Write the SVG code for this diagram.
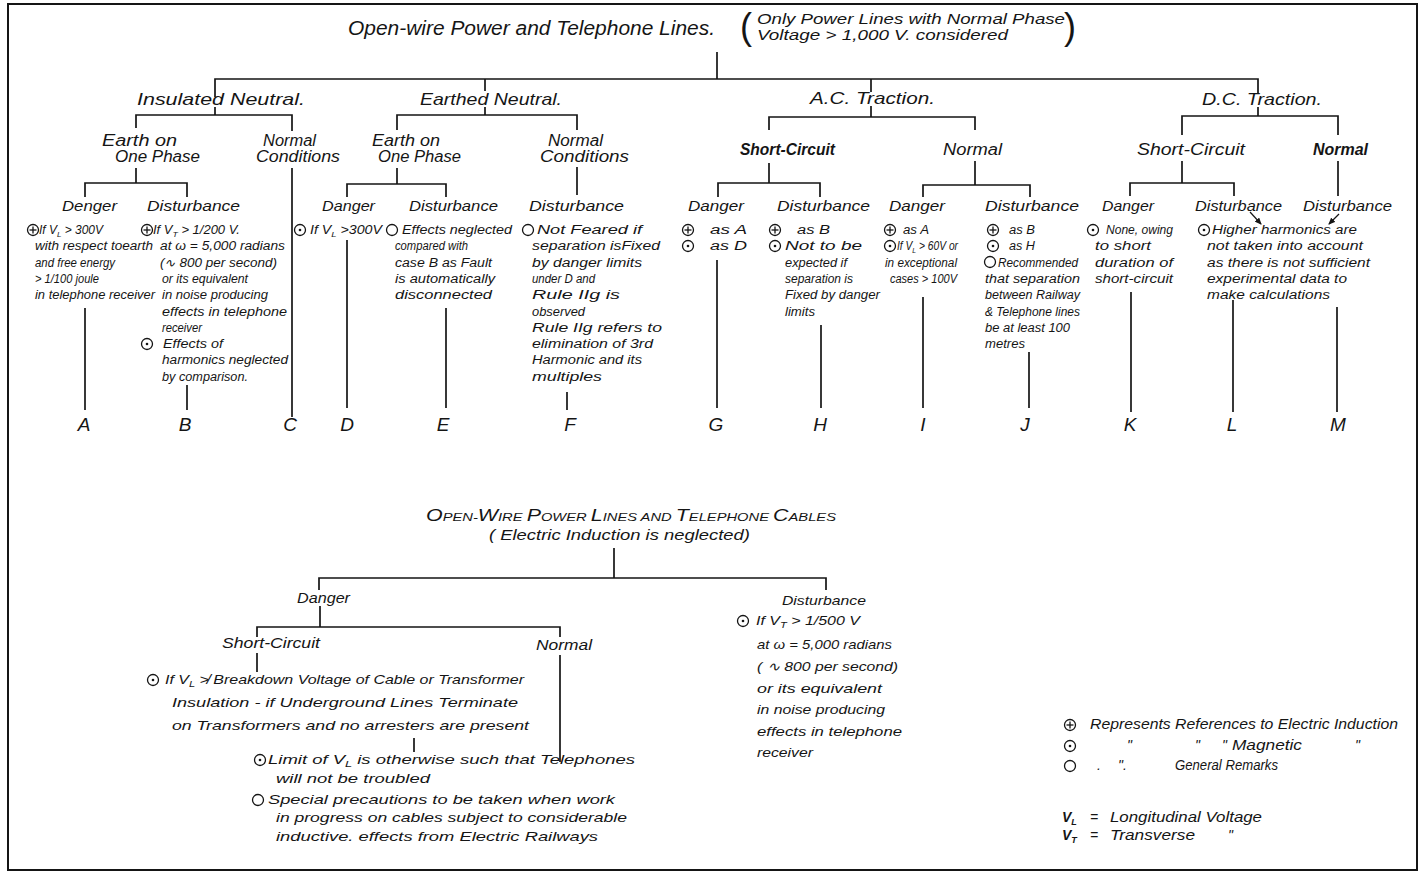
<svg xmlns="http://www.w3.org/2000/svg" width="1418" height="873" viewBox="0 0 1418 873">
<style>
text{font-family:"Liberation Sans",Arial,sans-serif;font-style:italic;fill:#151515}
.h0{font-size:20px}
.h1{font-size:17px}
.h2{font-size:16px}
.h3{font-size:15px}
.s{font-size:12px}
.m{font-size:13px}
.lg{font-size:14px}
.lt{font-size:19px;text-anchor:middle}
.b{font-weight:bold}
.par{font-size:36px;font-style:normal}
.c path{stroke:#151515;stroke-width:1.7;fill:none}
.sym circle,.sym line{fill:none;stroke:#151515;stroke-width:1.3}
.sym .d{fill:#151515;stroke:none}
.frame{fill:none;stroke:#151515;stroke-width:2}
</style>
<defs>
<g id="plus" class="sym"><circle r="5.5"/><line x1="-3.5" y1="0" x2="3.5" y2="0"/><line x1="0" y1="-3.5" x2="0" y2="3.5"/></g>
<g id="dot" class="sym"><circle r="5.5"/><circle class="d" r="1.3"/></g>
<g id="ring" class="sym"><circle r="5.5"/></g>
<marker id="ah" markerWidth="7" markerHeight="6" refX="6" refY="3" orient="auto" markerUnits="userSpaceOnUse"><path d="M0,0 L7,3 L0,6 z" fill="#151515"/></marker>
</defs>
<rect width="1418" height="873" fill="#fff"/>
<rect class="frame" x="8" y="4" width="1409" height="866"/>

<g id="connectors" class="c">
<path d="M717 52V79"/>
<path d="M215 97V79H1258V94"/>
<path d="M485 79V91"/>
<path d="M871 79V92"/>
<path d="M215 107V115"/>
<path d="M136 128V115H292V131"/>
<path d="M136 168V183"/>
<path d="M85 197V183H187V197"/>
<path d="M292 168V417"/>
<path d="M85 308V410"/>
<path d="M187 385V410"/>
<path d="M347 240V408"/>
<path d="M485 107V115"/>
<path d="M397 130V115H577V130"/>
<path d="M397 168V184"/>
<path d="M347 197V184H446V197"/>
<path d="M577 167V195"/>
<path d="M446 308V408"/>
<path d="M567 392V410"/>
<path d="M871 106V117"/>
<path d="M769 130V117H975V130"/>
<path d="M769 163V183"/>
<path d="M718 197V183H820V197"/>
<path d="M975 161V185"/>
<path d="M923 197V185H1030V197"/>
<path d="M717 260V408"/>
<path d="M821 325V408"/>
<path d="M923 297V408"/>
<path d="M1029 352V408"/>
<path d="M1258 107V116"/>
<path d="M1182 135V116H1338V135"/>
<path d="M1182 161V183"/>
<path d="M1130 196V183H1234V196"/>
<path d="M1338 161V196"/>
<path d="M1131 292V412"/>
<path d="M1233 300V412"/>
<path d="M1337 307V412"/>
<path d="M1250 212L1261 224" marker-end="url(#ah)" style="stroke-width:1.2"/>
<path d="M1339 214L1329 224" marker-end="url(#ah)" style="stroke-width:1.2"/>
<path d="M614 548V578"/>
<path d="M319 590V578H826V590"/>
<path d="M320 606V627"/>
<path d="M257 637V627H560V637"/>
<path d="M257 653V672"/>
<path d="M560 655V762"/>
<path d="M414 738V752"/>
</g>

<g id="root">
<text class="h0" x="348" y="35" textLength="367" lengthAdjust="spacingAndGlyphs">Open-wire Power and Telephone Lines.</text>
</g>
<g id="note">
<text class="par" x="740" y="39">(</text>
<text class="h3" x="757" y="24" textLength="308" lengthAdjust="spacingAndGlyphs">Only Power Lines with Normal Phase</text>
<text class="h3" x="757" y="40" textLength="251" lengthAdjust="spacingAndGlyphs">Voltage &gt; 1,000 V.  considered</text>
<text class="par" x="1064" y="39">)</text>
</g>

<g id="insulated-neutral"><text class="h1" x="137" y="105" textLength="168" lengthAdjust="spacingAndGlyphs">Insulated Neutral.</text></g>
<g id="earthed-neutral"><text class="h1" x="420" y="105" textLength="142" lengthAdjust="spacingAndGlyphs">Earthed Neutral.</text></g>
<g id="ac-traction"><text class="h1" x="810" y="104" textLength="125" lengthAdjust="spacingAndGlyphs">A.C. Traction.</text></g>
<g id="dc-traction"><text class="h1" x="1202" y="105" textLength="120" lengthAdjust="spacingAndGlyphs">D.C. Traction.</text></g>

<g id="in-earth">
<text class="h2" x="102" y="146" textLength="75" lengthAdjust="spacingAndGlyphs">Earth on</text>
<text class="h2" x="115" y="162" textLength="85" lengthAdjust="spacingAndGlyphs">One Phase</text>
</g>
<g id="in-normal">
<text class="h2" x="263" y="146" textLength="53" lengthAdjust="spacingAndGlyphs">Normal</text>
<text class="h2" x="256" y="162" textLength="84" lengthAdjust="spacingAndGlyphs">Conditions</text>
</g>
<g id="en-earth">
<text class="h2" x="372" y="146" textLength="68" lengthAdjust="spacingAndGlyphs">Earth on</text>
<text class="h2" x="378" y="162" textLength="83" lengthAdjust="spacingAndGlyphs">One Phase</text>
</g>
<g id="en-normal">
<text class="h2" x="548" y="146" textLength="55" lengthAdjust="spacingAndGlyphs">Normal</text>
<text class="h2" x="540" y="162" textLength="89" lengthAdjust="spacingAndGlyphs">Conditions</text>
</g>
<g id="ac-short"><text class="h2 b" x="740" y="155" textLength="95" lengthAdjust="spacingAndGlyphs">Short-Circuit</text></g>
<g id="ac-normal"><text class="h2" x="943" y="155" textLength="59" lengthAdjust="spacingAndGlyphs">Normal</text></g>
<g id="dc-short"><text class="h2" x="1137" y="155" textLength="108" lengthAdjust="spacingAndGlyphs">Short-Circuit</text></g>
<g id="dc-normal"><text class="h2 b" x="1313" y="155" textLength="55" lengthAdjust="spacingAndGlyphs">Normal</text></g>

<g id="A">
<text class="h3" x="62" y="211" textLength="55" lengthAdjust="spacingAndGlyphs">Denger</text>
<use href="#plus" x="33" y="230"/>
<text class="s" x="39" y="234" textLength="64" lengthAdjust="spacingAndGlyphs">If V<tspan font-size="8" dy="3">L</tspan><tspan dy="-3"> &gt; 300V</tspan></text>
<text class="s" x="35" y="250.3" textLength="118" lengthAdjust="spacingAndGlyphs">with respect toearth</text>
<text class="s" x="35" y="266.6" textLength="80" lengthAdjust="spacingAndGlyphs">and free energy</text>
<text class="s" x="35" y="282.9" textLength="64" lengthAdjust="spacingAndGlyphs">&gt; 1/100 joule</text>
<text class="s" x="35" y="299.2" textLength="120" lengthAdjust="spacingAndGlyphs">in telephone receiver</text>
<text class="lt" x="84" y="431">A</text>
</g>
<g id="B">
<text class="h3" x="147" y="211" textLength="93" lengthAdjust="spacingAndGlyphs">Disturbance</text>
<use href="#plus" x="147" y="230"/>
<text class="s" x="153" y="234" textLength="87" lengthAdjust="spacingAndGlyphs">If V<tspan font-size="8" dy="3">T</tspan><tspan dy="-3"> &gt; 1/200 V.</tspan></text>
<text class="s" x="160" y="250.3" textLength="125" lengthAdjust="spacingAndGlyphs">at ω = 5,000 radians</text>
<text class="s" x="160" y="266.6" textLength="117" lengthAdjust="spacingAndGlyphs">(∿ 800 per second)</text>
<text class="s" x="162" y="282.9" textLength="86" lengthAdjust="spacingAndGlyphs">or its equivalent</text>
<text class="s" x="162" y="299.2" textLength="106" lengthAdjust="spacingAndGlyphs">in noise producing</text>
<text class="s" x="162" y="315.5" textLength="125" lengthAdjust="spacingAndGlyphs">effects in telephone</text>
<text class="s" x="162" y="331.8" textLength="40" lengthAdjust="spacingAndGlyphs">receiver</text>
<use href="#dot" x="147" y="344"/>
<text class="s" x="163" y="348.1" textLength="60" lengthAdjust="spacingAndGlyphs">Effects of</text>
<text class="s" x="162" y="364.4" textLength="126" lengthAdjust="spacingAndGlyphs">harmonics neglected</text>
<text class="s" x="162" y="380.7" textLength="86" lengthAdjust="spacingAndGlyphs">by comparison.</text>
<text class="lt" x="185" y="431">B</text>
</g>
<g id="C"><text class="lt" x="290" y="431">C</text></g>
<g id="D">
<text class="h3" x="322" y="211" textLength="53" lengthAdjust="spacingAndGlyphs">Danger</text>
<use href="#dot" x="300" y="230"/>
<text class="s" x="310" y="234" textLength="72" lengthAdjust="spacingAndGlyphs">If V<tspan font-size="8" dy="3">L</tspan><tspan dy="-3"> &gt;300V</tspan></text>
<text class="lt" x="347" y="431">D</text>
</g>
<g id="E">
<text class="h3" x="409" y="211" textLength="89" lengthAdjust="spacingAndGlyphs">Disturbance</text>
<use href="#ring" x="392" y="230"/>
<text class="s" x="402" y="234" textLength="110" lengthAdjust="spacingAndGlyphs">Effects neglected</text>
<text class="s" x="395" y="250.3" textLength="73" lengthAdjust="spacingAndGlyphs">compared with</text>
<text class="s" x="395" y="266.6" textLength="97" lengthAdjust="spacingAndGlyphs">case B as Fault</text>
<text class="s" x="395" y="282.9" textLength="100" lengthAdjust="spacingAndGlyphs">is automatically</text>
<text class="s" x="395" y="299.2" textLength="97" lengthAdjust="spacingAndGlyphs">disconnected</text>
<text class="lt" x="443" y="431">E</text>
</g>
<g id="F">
<text class="h3" x="529" y="211" textLength="95" lengthAdjust="spacingAndGlyphs">Disturbance</text>
<use href="#ring" x="528" y="230"/>
<text class="s" x="537" y="234" textLength="105" lengthAdjust="spacingAndGlyphs">Not Feared if</text>
<text class="s" x="532" y="250.3" textLength="128" lengthAdjust="spacingAndGlyphs">separation isFixed</text>
<text class="s" x="532" y="266.6" textLength="110" lengthAdjust="spacingAndGlyphs">by danger limits</text>
<text class="s" x="532" y="282.9" textLength="63" lengthAdjust="spacingAndGlyphs">under D and</text>
<text class="s" x="532" y="299.2" textLength="88" lengthAdjust="spacingAndGlyphs">Rule IIg is</text>
<text class="s" x="532" y="315.5" textLength="53" lengthAdjust="spacingAndGlyphs">observed</text>
<text class="s" x="532" y="331.8" textLength="130" lengthAdjust="spacingAndGlyphs">Rule IIg refers to</text>
<text class="s" x="532" y="348.1" textLength="121" lengthAdjust="spacingAndGlyphs">elimination of 3rd</text>
<text class="s" x="532" y="364.4" textLength="110" lengthAdjust="spacingAndGlyphs">Harmonic and its</text>
<text class="s" x="532" y="380.7" textLength="70" lengthAdjust="spacingAndGlyphs">multiples</text>
<text class="lt" x="570" y="431">F</text>
</g>
<g id="G">
<text class="h3" x="688" y="211" textLength="56" lengthAdjust="spacingAndGlyphs">Danger</text>
<use href="#plus" x="688" y="230"/>
<text class="s" x="710" y="234" textLength="37" lengthAdjust="spacingAndGlyphs">as A</text>
<use href="#dot" x="688" y="246"/>
<text class="s" x="710" y="250.3" textLength="37" lengthAdjust="spacingAndGlyphs">as D</text>
<text class="lt" x="716" y="431">G</text>
</g>
<g id="H">
<text class="h3" x="777" y="211" textLength="93" lengthAdjust="spacingAndGlyphs">Disturbance</text>
<use href="#plus" x="775" y="230"/>
<text class="s" x="797" y="234" textLength="33" lengthAdjust="spacingAndGlyphs">as B</text>
<use href="#dot" x="775" y="246"/>
<text class="s" x="785" y="250.3" textLength="77" lengthAdjust="spacingAndGlyphs">Not to be</text>
<text class="s" x="785" y="266.6" textLength="62" lengthAdjust="spacingAndGlyphs">expected if</text>
<text class="s" x="785" y="282.9" textLength="68" lengthAdjust="spacingAndGlyphs">separation is</text>
<text class="s" x="785" y="299.2" textLength="95" lengthAdjust="spacingAndGlyphs">Fixed by danger</text>
<text class="s" x="785" y="315.5" textLength="30" lengthAdjust="spacingAndGlyphs">limits</text>
<text class="lt" x="820" y="431">H</text>
</g>
<g id="I">
<text class="h3" x="889" y="211" textLength="56" lengthAdjust="spacingAndGlyphs">Danger</text>
<use href="#plus" x="890" y="230"/>
<text class="s" x="903" y="234" textLength="26" lengthAdjust="spacingAndGlyphs">as A</text>
<use href="#dot" x="890" y="246"/>
<text class="s" x="897" y="250.3" textLength="61" lengthAdjust="spacingAndGlyphs">If V<tspan font-size="8" dy="3">L</tspan><tspan dy="-3"> &gt; 60V or</tspan></text>
<text class="s" x="885" y="266.6" textLength="72" lengthAdjust="spacingAndGlyphs">in exceptional</text>
<text class="s" x="890" y="282.9" textLength="67" lengthAdjust="spacingAndGlyphs">cases &gt; 100V</text>
<text class="lt" x="923" y="431">I</text>
</g>
<g id="J">
<text class="h3" x="985" y="211" textLength="94" lengthAdjust="spacingAndGlyphs">Disturbance</text>
<use href="#plus" x="993" y="230"/>
<text class="s" x="1009" y="234" textLength="26" lengthAdjust="spacingAndGlyphs">as B</text>
<use href="#dot" x="993" y="246"/>
<text class="s" x="1009" y="250.3" textLength="26" lengthAdjust="spacingAndGlyphs">as H</text>
<use href="#ring" x="990" y="262"/>
<text class="s" x="998" y="266.6" textLength="80" lengthAdjust="spacingAndGlyphs">Recommended</text>
<text class="s" x="985" y="282.9" textLength="95" lengthAdjust="spacingAndGlyphs">that separation</text>
<text class="s" x="985" y="299.2" textLength="95" lengthAdjust="spacingAndGlyphs">between Railway</text>
<text class="s" x="985" y="315.5" textLength="95" lengthAdjust="spacingAndGlyphs">&amp; Telephone lines</text>
<text class="s" x="985" y="331.8" textLength="85" lengthAdjust="spacingAndGlyphs">be at least 100</text>
<text class="s" x="985" y="348.1" textLength="40" lengthAdjust="spacingAndGlyphs">metres</text>
<text class="lt" x="1025" y="431">J</text>
</g>
<g id="K">
<text class="h3" x="1102" y="211" textLength="52" lengthAdjust="spacingAndGlyphs">Danger</text>
<use href="#dot" x="1093" y="230"/>
<text class="s" x="1106" y="234" textLength="67" lengthAdjust="spacingAndGlyphs">None, owing</text>
<text class="s" x="1095" y="250.3" textLength="56" lengthAdjust="spacingAndGlyphs">to short</text>
<text class="s" x="1095" y="266.6" textLength="78" lengthAdjust="spacingAndGlyphs">duration of</text>
<text class="s" x="1095" y="282.9" textLength="78" lengthAdjust="spacingAndGlyphs">short-circuit</text>
<text class="lt" x="1130" y="431">K</text>
</g>
<g id="L">
<text class="h3" x="1195" y="211" textLength="87" lengthAdjust="spacingAndGlyphs">Disturbance</text>
<use href="#dot" x="1204" y="230"/>
<text class="s" x="1212" y="234" textLength="145" lengthAdjust="spacingAndGlyphs">Higher harmonics are</text>
<text class="s" x="1207" y="250.3" textLength="156" lengthAdjust="spacingAndGlyphs">not taken into account</text>
<text class="s" x="1207" y="266.6" textLength="163" lengthAdjust="spacingAndGlyphs">as there is not sufficient</text>
<text class="s" x="1207" y="282.9" textLength="140" lengthAdjust="spacingAndGlyphs">experimental data to</text>
<text class="s" x="1207" y="299.2" textLength="123" lengthAdjust="spacingAndGlyphs">make calculations</text>
<text class="lt" x="1232" y="431">L</text>
</g>
<g id="M">
<text class="h3" x="1303" y="211" textLength="89" lengthAdjust="spacingAndGlyphs">Disturbance</text>
<text class="lt" x="1338" y="431">M</text>
</g>

<g id="cables-root">
<text class="h3" x="426" y="521" textLength="410" lengthAdjust="spacingAndGlyphs"><tspan font-size="16">O</tspan><tspan font-size="11">PEN-</tspan><tspan font-size="16">W</tspan><tspan font-size="11">IRE </tspan><tspan font-size="16">P</tspan><tspan font-size="11">OWER </tspan><tspan font-size="16">L</tspan><tspan font-size="11">INES AND </tspan><tspan font-size="16">T</tspan><tspan font-size="11">ELEPHONE </tspan><tspan font-size="16">C</tspan><tspan font-size="11">ABLES</tspan></text>
<text class="h3" x="489" y="540" textLength="261" lengthAdjust="spacingAndGlyphs">( Electric Induction is neglected)</text>
</g>
<g id="cab-danger"><text class="lg" x="297" y="603" textLength="53" lengthAdjust="spacingAndGlyphs">Danger</text></g>
<g id="cab-short">
<text class="lg" x="222" y="648" textLength="98" lengthAdjust="spacingAndGlyphs">Short-Circuit</text>
<use href="#dot" x="153" y="680"/>
<text class="m" x="165" y="684" textLength="359" lengthAdjust="spacingAndGlyphs">If V<tspan font-size="9" dy="3">L</tspan><tspan dy="-3"> ≯ Breakdown Voltage of Cable or Transformer</tspan></text>
<text class="m" x="172" y="707" textLength="346" lengthAdjust="spacingAndGlyphs">Insulation - if Underground Lines Terminate</text>
<text class="m" x="172" y="730" textLength="357" lengthAdjust="spacingAndGlyphs">on Transformers and no arresters are present</text>
</g>
<g id="cab-normal">
<text class="lg" x="536" y="650" textLength="56" lengthAdjust="spacingAndGlyphs">Normal</text>
<use href="#dot" x="260" y="760"/>
<text class="m" x="268" y="764" textLength="367" lengthAdjust="spacingAndGlyphs">Limit of V<tspan font-size="9" dy="3">L</tspan><tspan dy="-3"> is otherwise such that Telephones</tspan></text>
<text class="m" x="276" y="783" textLength="154" lengthAdjust="spacingAndGlyphs">will not be troubled</text>
<use href="#ring" x="258" y="800"/>
<text class="m" x="268" y="804" textLength="347" lengthAdjust="spacingAndGlyphs">Special precautions to be taken when work</text>
<text class="m" x="276" y="822" textLength="351" lengthAdjust="spacingAndGlyphs">in progress on cables subject to considerable</text>
<text class="m" x="276" y="841" textLength="322" lengthAdjust="spacingAndGlyphs">inductive. effects from  Electric Railways</text>
</g>
<g id="cab-disturbance">
<text class="m" x="782" y="605" textLength="84" lengthAdjust="spacingAndGlyphs">Disturbance</text>
<use href="#dot" x="743" y="621"/>
<text class="m" x="756" y="625" textLength="104" lengthAdjust="spacingAndGlyphs">If V<tspan font-size="9" dy="3">T</tspan><tspan dy="-3"> &gt; 1/500 V</tspan></text>
<text class="m" x="757" y="649" textLength="135" lengthAdjust="spacingAndGlyphs">at ω = 5,000 radians</text>
<text class="m" x="757" y="671" textLength="141" lengthAdjust="spacingAndGlyphs">( ∿ 800 per second)</text>
<text class="m" x="757" y="693" textLength="125" lengthAdjust="spacingAndGlyphs">or its equivalent</text>
<text class="m" x="757" y="714" textLength="128" lengthAdjust="spacingAndGlyphs">in noise producing</text>
<text class="m" x="757" y="736" textLength="145" lengthAdjust="spacingAndGlyphs">effects  in telephone</text>
<text class="m" x="757" y="757" textLength="56" lengthAdjust="spacingAndGlyphs">receiver</text>
</g>

<g id="legend">
<use href="#plus" x="1070" y="725"/>
<text class="lg" x="1090" y="729" textLength="308" lengthAdjust="spacingAndGlyphs">Represents References to Electric Induction</text>
<use href="#dot" x="1070" y="746"/>
<text class="lg" x="1127" y="750">"</text>
<text class="lg" x="1195" y="750">"</text>
<text class="lg" x="1222" y="750">"</text>
<text class="lg" x="1232" y="750" textLength="70" lengthAdjust="spacingAndGlyphs">Magnetic</text>
<text class="lg" x="1355" y="750">"</text>
<use href="#ring" x="1070" y="766"/>
<text class="lg" x="1097" y="770">.</text>
<text class="lg" x="1118" y="770">".</text>
<text class="lg" x="1175" y="770" textLength="103" lengthAdjust="spacingAndGlyphs">General Remarks</text>
<text class="lg b" x="1062" y="822">V<tspan font-size="9" dy="3">L</tspan></text>
<text class="lg" x="1090" y="822">=</text>
<text class="lg" x="1110" y="822" textLength="152" lengthAdjust="spacingAndGlyphs">Longitudinal Voltage</text>
<text class="lg b" x="1062" y="840">V<tspan font-size="9" dy="3">T</tspan></text>
<text class="lg" x="1090" y="840">=</text>
<text class="lg" x="1110" y="840" textLength="85" lengthAdjust="spacingAndGlyphs">Transverse</text>
<text class="lg" x="1228" y="840">"</text>
</g>
</svg>
